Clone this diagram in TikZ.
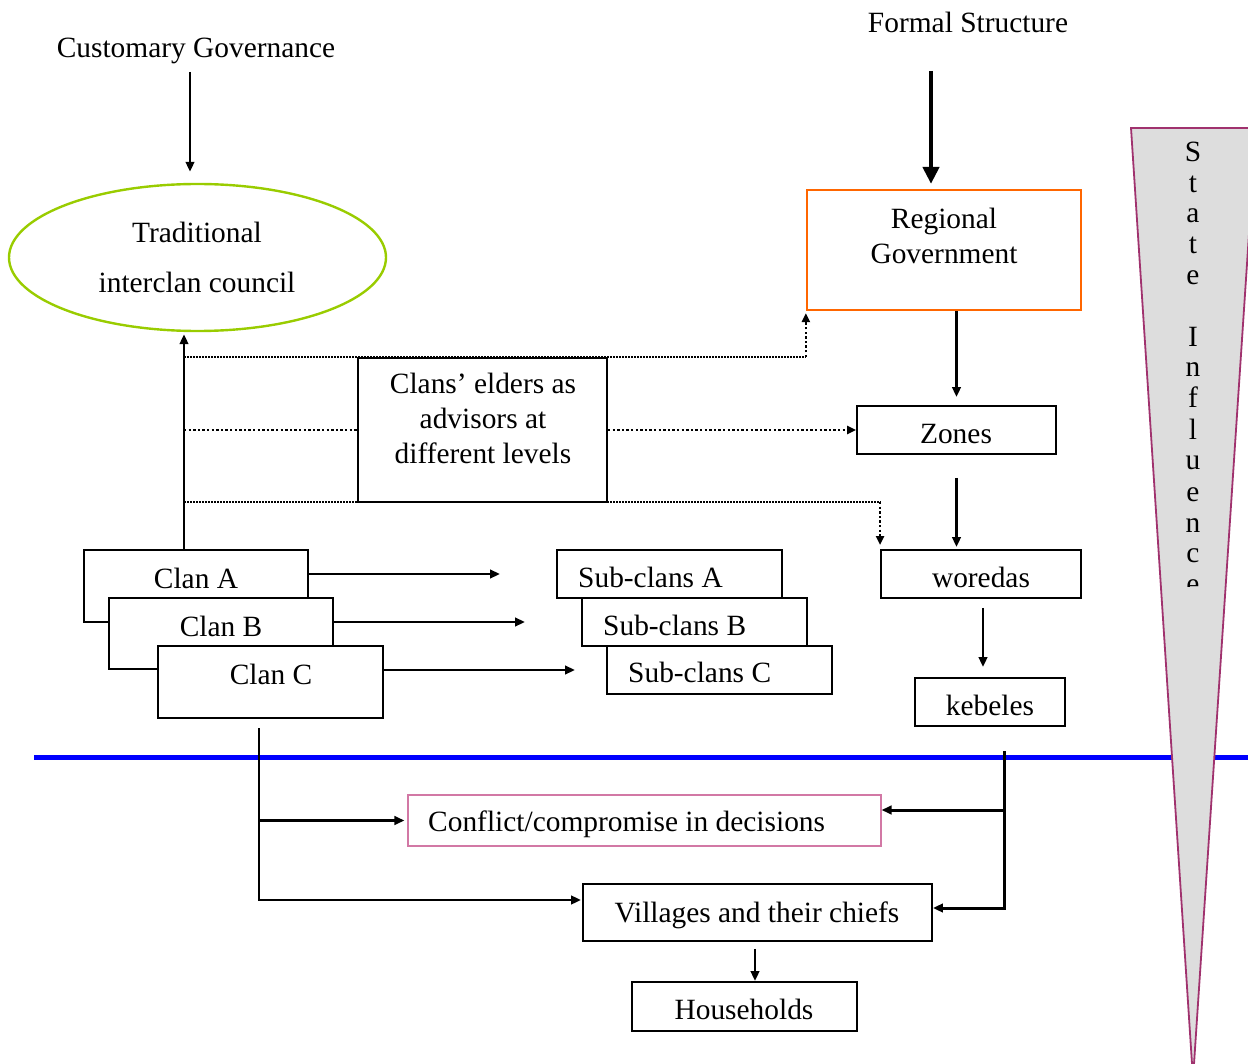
\documentclass[tikz,border=0pt]{standalone}
\usepackage{fontspec}
\setmainfont{Liberation Serif}
\usetikzlibrary{arrows.meta,shapes.geometric}
\definecolor{leaf}{RGB}{153,204,0}
\definecolor{orangeedge}{RGB}{255,102,0}
\definecolor{wine}{RGB}{160,50,110}
\definecolor{rose}{RGB}{210,120,165}
\definecolor{wedgefill}{RGB}{221,221,221}
\definecolor{divider}{RGB}{0,0,255}

\begin{document}
\begin{tikzpicture}[x=1pt,y=-1pt,
  every node/.style={font=\fontsize{29.4}{35}\selectfont, inner sep=0pt},
  box/.style={draw, line width=1.9pt, fill=white, rectangle},
  lbl/.style={anchor=base},
  link/.style={line width=2.5pt},
  arr/.style={link, -{Triangle[length=10pt,width=8.5pt]}},
  bigarr/.style={line width=4.5pt, -{Triangle[length=17pt,width=16pt]}},
  dotfine/.style={line width=1.6pt, dash pattern=on 1.6pt off 1.4pt},
  dotbold/.style={line width=2.8pt, dash pattern=on 2.4pt off 2.2pt},
  dottip/.style={-{Triangle[length=9pt,width=8pt]}},
]
\useasboundingbox (0,0) rectangle (1248,1064);
\clip (0,0) rectangle (1248,1064);

% level divider and the state-influence wedge
\draw[divider, line width=5pt] (34,757) -- (1248,757);
\draw[wine, line width=1.8pt, fill=wedgefill] (1131,128) -- (1256,128) -- (1193,1079) -- cycle;
\begin{scope}
  \clip (1100,0) rectangle (1248,586);
  \foreach \ch/\yy [count=\k] in {S/162,t/193,a/223,t/254,e/285,I/347,n/377,f/408,l/439,u/470,e/501,n/532,c/562,e/593}
    \node[lbl] (wedge-\k) at (1193,\yy) {\ch};
\end{scope}

% titles
\node[lbl] (custTitle) at (196,58) {Customary Governance};
\node[lbl] (formTitle) at (968,33) {Formal Structure};

% customary side
\node[draw=leaf, line width=2.4pt, ellipse, minimum width=377pt, minimum height=147pt] (council) at (197.5,257.5) {};
\node[lbl] (councilA) at (197,243) {Traditional};
\node[lbl] (councilB) at (197,293) {interclan council};

% formal side
\node[box, draw=orangeedge, line width=2.2pt, minimum width=274pt, minimum height=120pt] (region) at (944,250) {};
\node[align=center] (regionText) at (944,235.5) {Regional\\Government};
\node[box, minimum width=199pt, minimum height=48pt] (zones) at (956.5,430) {};
\node[lbl] (zonesText) at (956,443) {Zones};
\node[box, minimum width=200pt, minimum height=48pt] (woredas) at (981,574) {};
\node[lbl] (woredasText) at (981,587) {woredas};
\node[box, minimum width=150pt, minimum height=48pt] (kebeles) at (990,702) {};
\node[lbl] (kebelesText) at (990,715) {kebeles};

% elders
\node[box, minimum width=249pt, minimum height=144pt] (elders) at (482.5,430) {};
\node[align=center] (eldersText) at (483,418.5) {Clans’ elders as\\advisors at\\different levels};

% clans
\node[box, minimum width=224pt, minimum height=72pt] (clanA) at (196,586) {};
\node[lbl] (clanAText) at (196,588) {Clan A};
\node[box, minimum width=224pt, minimum height=71pt] (clanB) at (221,633.5) {};
\node[lbl] (clanBText) at (221,636) {Clan B};
\node[box, minimum width=225pt, minimum height=72pt] (clanC) at (270.5,682) {};
\node[lbl] (clanCText) at (271,684) {Clan C};

% sub-clans
\node[box, minimum width=225pt, minimum height=48pt] (subA) at (669.5,574) {};
\node[anchor=base west] (subAText) at (578,587) {Sub-clans A};
\node[box, minimum width=225pt, minimum height=48pt] (subB) at (694.5,622) {};
\node[anchor=base west] (subBText) at (603,635) {Sub-clans B};
\node[box, minimum width=225pt, minimum height=48pt] (subC) at (719.5,670) {};
\node[anchor=base west] (subCText) at (628,682) {Sub-clans C};

% local level
\node[draw=rose, line width=1.1pt, minimum width=473pt, minimum height=51pt] (conflict) at (644.5,820.5) {};
\node[anchor=base west] (conflictText) at (428,831) {Conflict/compromise in decisions};
\node[box, minimum width=349pt, minimum height=57pt] (villages) at (757.5,912.5) {};
\node[lbl] (villagesText) at (757,922) {Villages and their chiefs};
\node[box, minimum width=225pt, minimum height=49pt] (households) at (744.5,1006.5) {};
\node[lbl] (householdsText) at (744,1019) {Households};

% top-down arrows
\coordinate (custFoot) at (190,72);
\draw[arr, shorten >=11pt] (custFoot) -- (custFoot |- council.north);
\coordinate (formFoot) at (931,71);
\draw[bigarr, shorten >=5pt] (formFoot) -- (formFoot |- region.north);
\draw[arr, shorten >=8pt] (zones.north |- region.south) -- (zones.north);
\draw[arr, shorten <=23pt, shorten >=2pt] (zones.south) -- (zones.south |- woredas.north);
\coordinate (woredasOut) at ([xshift=2pt]woredas.south);
\draw[arr, shorten <=9pt, shorten >=10pt] (woredasOut) -- (woredasOut |- kebeles.north);

% clans up to the council
\coordinate (spine) at ([xshift=-12pt]clanA.north);
\draw[arr, shorten >=2pt] (spine) -- (spine |- council.south);

% elders' advisory links
\coordinate (tapTop) at (184,357);
\coordinate (tapMid) at (184,430);
\coordinate (tapLow) at (184,502);
\draw[dotfine] (tapTop) -- (tapTop -| region.south west);
\draw[dotbold, dottip, shorten >=2pt] (tapTop -| region.south west) -- (region.south west);
\draw[dotbold] (tapMid) -- (elders.west);
\draw[dotbold, dottip] (elders.east) -- (zones.west);
\draw[dotfine] (tapLow) -- (tapLow -| woredas.north west);
\draw[dotbold, dottip, shorten >=4pt] (tapLow -| woredas.north west) -- (woredas.north west);

% clans to sub-clans
\coordinate (toSubA) at (500,574);
\coordinate (toSubB) at (525,622);
\coordinate (toSubC) at (575,670);
\draw[arr] ([yshift=12pt]clanA.east) -- (toSubA);
\draw[arr] ([yshift=11.5pt]clanB.east) -- (toSubB);
\draw[arr] ([yshift=12pt]clanC.east) -- (toSubC);

% clans down to the local level
\coordinate (clanDrop) at (259,728);
\coordinate (villWest) at ([yshift=12.5pt]villages.west);
\draw[arr, shorten >=1pt] (clanDrop) |- (villWest);
\draw[arr, shorten >=3pt] (clanDrop |- conflict.west) -- (conflict.west);

% state down to the local level
\coordinate (stateDrop) at (1004,751);
\coordinate (villEast) at ([yshift=4.5pt]villages.east);
\coordinate (confEast) at ([yshift=10.5pt]conflict.east);
\draw[arr, line width=3pt] (stateDrop) |- (villEast);
\draw[arr, line width=3pt] (stateDrop |- confEast) -- (confEast);

% villages to households
\coordinate (villOut) at ([xshift=-2.5pt]villages.south);
\draw[arr, shorten <=7pt] (villOut) -- (villOut |- households.north);
\end{tikzpicture}
\end{document}
